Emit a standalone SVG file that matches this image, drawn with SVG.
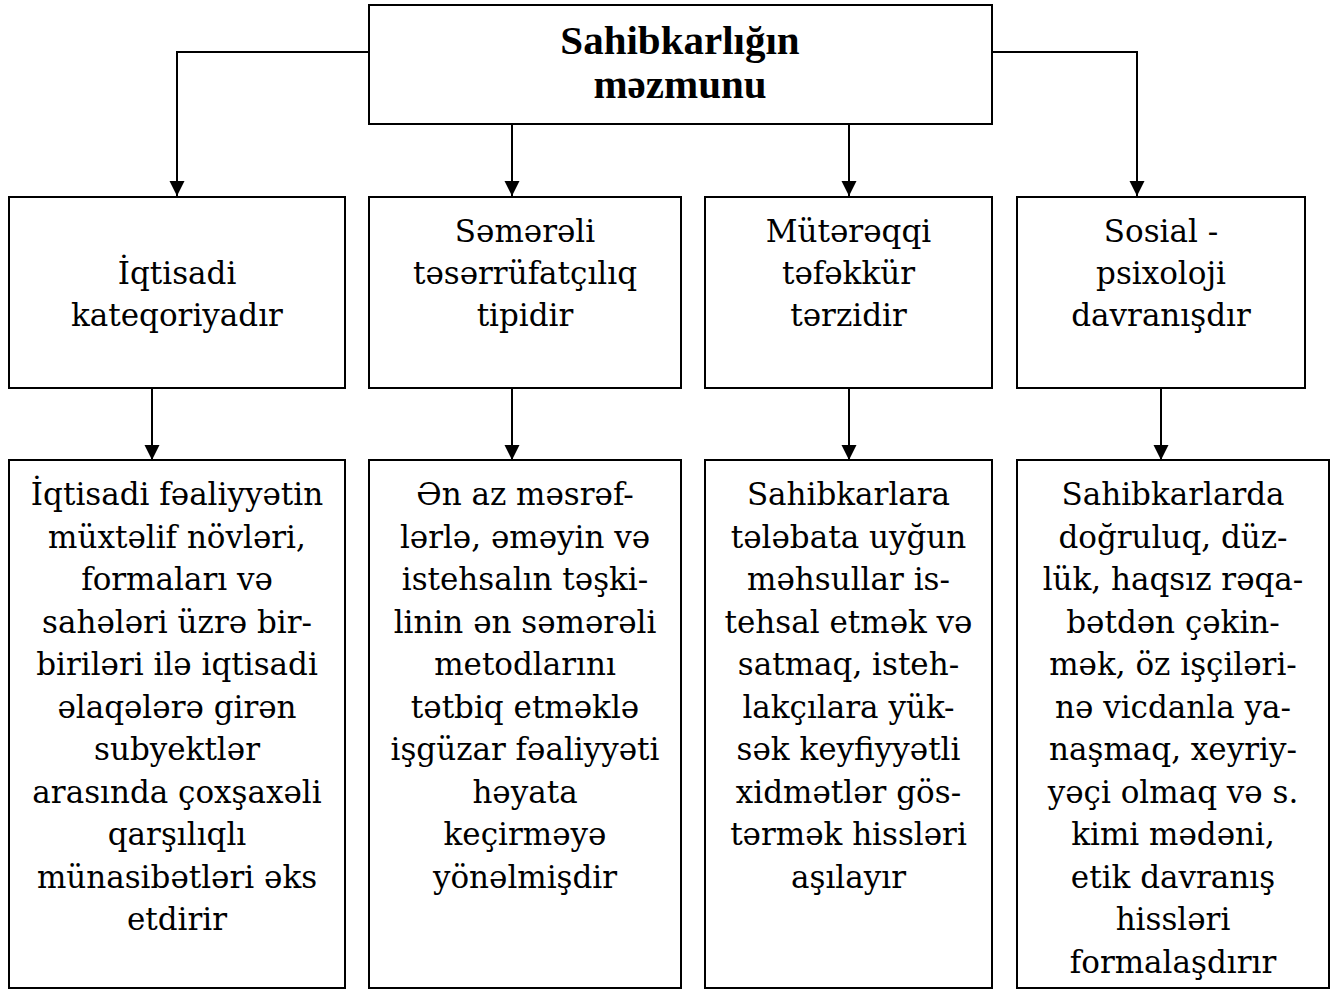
<svg xmlns="http://www.w3.org/2000/svg" width="1339" height="991" viewBox="0 0 1339 991">
<style>
.box{fill:#fff;stroke:#000;stroke-width:2}
.t{font-family:"DejaVu Serif","Liberation Serif",serif;font-size:31px;fill:#000;text-anchor:middle}
.title{font-family:"Liberation Serif",serif;font-size:41px;font-weight:bold;fill:#000;text-anchor:middle}
.c{fill:none;stroke:#000;stroke-width:2}
</style>
<defs>
<marker id="arr" markerUnits="userSpaceOnUse" markerWidth="16" markerHeight="16" viewBox="0 0 16 16" refX="15" refY="8" orient="auto">
<path d="M0,0.5 L15,8 L0,15.5 Z" fill="#000"/>
</marker>
</defs>
<rect width="1339" height="991" fill="#fff"/>
<g id="connectors">
<path class="c" d="M369,52 H177 V196" marker-end="url(#arr)"/>
<path class="c" d="M512,124 V196" marker-end="url(#arr)"/>
<path class="c" d="M849,124 V196" marker-end="url(#arr)"/>
<path class="c" d="M992,52 H1137 V196" marker-end="url(#arr)"/>
<path class="c" d="M152,388 V460" marker-end="url(#arr)"/>
<path class="c" d="M512,388 V460" marker-end="url(#arr)"/>
<path class="c" d="M849,388 V460" marker-end="url(#arr)"/>
<path class="c" d="M1161,388 V460" marker-end="url(#arr)"/>
</g>
<g id="root">
<rect class="box" x="369" y="5" width="623" height="119"/>
<text class="title" x="680" y="54">Sahibkarlığın</text>
<text class="title" x="680" y="98">məzmunu</text>
</g>
<g id="m1">
<rect class="box" x="9" y="197" width="336" height="191"/>
<text class="t" x="177" y="284">İqtisadi</text>
<text class="t" x="177" y="326">kateqoriyadır</text>
</g>
<g id="m2">
<rect class="box" x="369" y="197" width="312" height="191"/>
<text class="t" x="525" y="242">Səmərəli</text>
<text class="t" x="525" y="284">təsərrüfatçılıq</text>
<text class="t" x="525" y="326">tipidir</text>
</g>
<g id="m3">
<rect class="box" x="705" y="197" width="287" height="191"/>
<text class="t" x="848.5" y="242">Mütərəqqi</text>
<text class="t" x="848.5" y="284">təfəkkür</text>
<text class="t" x="848.5" y="326">tərzidir</text>
</g>
<g id="m4">
<rect class="box" x="1017" y="197" width="288" height="191"/>
<text class="t" x="1161" y="242">Sosial -</text>
<text class="t" x="1161" y="284">psixoloji</text>
<text class="t" x="1161" y="326">davranışdır</text>
</g>
<g id="b1">
<rect class="box" x="9" y="460" width="336" height="528"/>
<text class="t" x="177" y="505">İqtisadi fəaliyyətin</text>
<text class="t" x="177" y="547.5">müxtəlif növləri,</text>
<text class="t" x="177" y="590">formaları və</text>
<text class="t" x="177" y="632.5">sahələri üzrə bir-</text>
<text class="t" x="177" y="675">biriləri ilə iqtisadi</text>
<text class="t" x="177" y="717.5">əlaqələrə girən</text>
<text class="t" x="177" y="760">subyektlər</text>
<text class="t" x="177" y="802.5">arasında çoxşaxəli</text>
<text class="t" x="177" y="845">qarşılıqlı</text>
<text class="t" x="177" y="887.5">münasibətləri əks</text>
<text class="t" x="177" y="930">etdirir</text>
</g>
<g id="b2">
<rect class="box" x="369" y="460" width="312" height="528"/>
<text class="t" x="525" y="505">Ən az məsrəf-</text>
<text class="t" x="525" y="547.5">lərlə, əməyin və</text>
<text class="t" x="525" y="590">istehsalın təşki-</text>
<text class="t" x="525" y="632.5">linin ən səmərəli</text>
<text class="t" x="525" y="675">metodlarını</text>
<text class="t" x="525" y="717.5">tətbiq etməklə</text>
<text class="t" x="525" y="760">işgüzar fəaliyyəti</text>
<text class="t" x="525" y="802.5">həyata</text>
<text class="t" x="525" y="845">keçirməyə</text>
<text class="t" x="525" y="887.5">yönəlmişdir</text>
</g>
<g id="b3">
<rect class="box" x="705" y="460" width="287" height="528"/>
<text class="t" x="848.5" y="505">Sahibkarlara</text>
<text class="t" x="848.5" y="547.5">tələbata uyğun</text>
<text class="t" x="848.5" y="590">məhsullar is-</text>
<text class="t" x="848.5" y="632.5">tehsal etmək və</text>
<text class="t" x="848.5" y="675">satmaq, isteh-</text>
<text class="t" x="848.5" y="717.5">lakçılara yük-</text>
<text class="t" x="848.5" y="760">sək keyfiyyətli</text>
<text class="t" x="848.5" y="802.5">xidmətlər gös-</text>
<text class="t" x="848.5" y="845">tərmək hissləri</text>
<text class="t" x="848.5" y="887.5">aşılayır</text>
</g>
<g id="b4">
<rect class="box" x="1017" y="460" width="312" height="528"/>
<text class="t" x="1173" y="505">Sahibkarlarda</text>
<text class="t" x="1173" y="547.5">doğruluq, düz-</text>
<text class="t" x="1173" y="590">lük, haqsız rəqa-</text>
<text class="t" x="1173" y="632.5">bətdən çəkin-</text>
<text class="t" x="1173" y="675">mək, öz işçiləri-</text>
<text class="t" x="1173" y="717.5">nə vicdanla ya-</text>
<text class="t" x="1173" y="760">naşmaq, xeyriy-</text>
<text class="t" x="1173" y="802.5">yəçi olmaq və s.</text>
<text class="t" x="1173" y="845">kimi mədəni,</text>
<text class="t" x="1173" y="887.5">etik davranış</text>
<text class="t" x="1173" y="930">hissləri</text>
<text class="t" x="1173" y="972.5">formalaşdırır</text>
</g>
</svg>
